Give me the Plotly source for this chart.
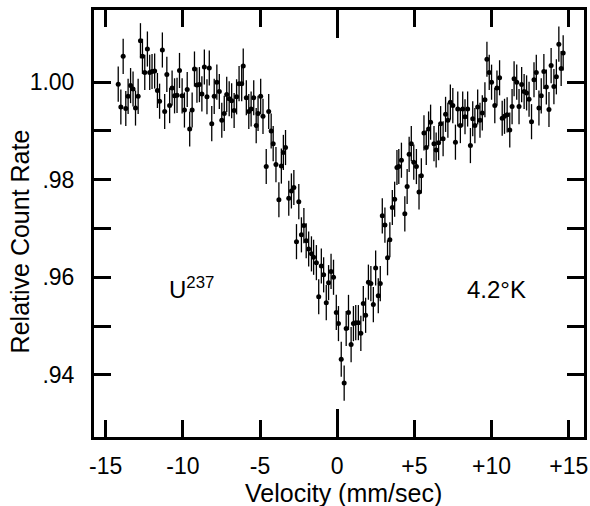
import plotly.graph_objects as go

velocity = [
    -14.19, -14.02, -13.87, -13.70, -13.55, -13.39, -13.23, -13.07, -12.90, -12.75,
    -12.62, -12.47, -12.30, -12.15, -12.00, -11.83, -11.65, -11.51, -11.33, -11.18,
    -11.04, -10.86, -10.70, -10.54, -10.38, -10.22, -10.05, -9.90, -9.72, -9.56,
    -9.40, -9.25, -9.09, -8.93, -8.77, -8.61, -8.44, -8.29, -8.13, -7.97,
    -7.80, -7.64, -7.48, -7.32, -7.16, -7.00, -6.84, -6.68, -6.52, -6.36,
    -6.19, -6.09, -5.89, -5.73, -5.58, -5.41, -5.25, -5.13, -4.96, -4.81,
    -4.60, -4.44, -4.28, -4.15, -3.97, -3.78, -3.62, -3.49, -3.35, -3.14,
    -2.97, -2.81, -2.64, -2.49, -2.32, -2.16, -2.01, -1.85, -1.67, -1.53,
    -1.35, -1.20, -1.03, -0.88, -0.71, -0.56, -0.40, -0.24, -0.06, 0.08,
    0.26, 0.45, 0.58, 0.73, 0.90, 1.05, 1.20, 1.37, 1.53, 1.69,
    1.84, 2.02, 2.18, 2.34, 2.49, 2.66, 2.79, 2.92, 3.09, 3.26,
    3.41, 3.57, 3.72, 3.87, 3.99, 4.16, 4.38, 4.53, 4.66, 4.80,
    4.96, 5.13, 5.30, 5.45, 5.62, 5.77, 5.92, 6.05, 6.27, 6.41,
    6.57, 6.70, 6.86, 7.02, 7.17, 7.33, 7.49, 7.66, 7.81, 7.98,
    8.13, 8.28, 8.45, 8.63, 8.78, 8.92, 9.10, 9.25, 9.40, 9.57,
    9.70, 9.85, 10.00, 10.21, 10.35, 10.52, 10.69, 10.84, 11.01, 11.18,
    11.33, 11.46, 11.63, 11.78, 11.95, 12.11, 12.27, 12.43, 12.59, 12.75,
    12.90, 13.07, 13.22, 13.39, 13.55, 13.72, 13.86, 14.04, 14.20, 14.36,
    14.51, 14.64,
]

count_rate = [
    0.9996, 0.9949, 1.0053, 0.9946, 0.9971, 0.9993, 0.9986, 0.9947, 0.9971, 1.0085,
    1.0053, 1.0020, 1.0068, 1.0020, 1.0022, 1.0023, 0.9983, 0.9961, 1.0066, 0.9940,
    1.0016, 0.9952, 0.9988, 0.9972, 0.9973, 1.0024, 0.9972, 0.9943, 0.9985, 0.9904,
    0.9943, 1.0027, 0.9994, 0.9995, 0.9976, 1.0031, 0.9970, 1.0029, 0.9915, 0.9971,
    1.0000, 0.9981, 0.9922, 0.9936, 0.9975, 0.9966, 0.9962, 0.9942, 0.9970, 0.9997,
    0.9997, 1.0033, 0.9968, 0.9940, 0.9945, 0.9968, 0.9911, 0.9936, 0.9971, 0.9930,
    0.9827, 0.9940, 0.9900, 0.9874, 0.9831, 0.9759, 0.9828, 0.9856, 0.9866, 0.9762,
    0.9777, 0.9784, 0.9673, 0.9755, 0.9687, 0.9706, 0.9675, 0.9658, 0.9648, 0.9641,
    0.9630, 0.9560, 0.9623, 0.9605, 0.9548, 0.9589, 0.9612, 0.9600, 0.9528, 0.9505,
    0.9432, 0.9383, 0.9495, 0.9528, 0.9462, 0.9505, 0.9507, 0.9507, 0.9485, 0.9546,
    0.9522, 0.9590, 0.9587, 0.9544, 0.9619, 0.9562, 0.9587, 0.9726, 0.9707, 0.9640,
    0.9677, 0.9743, 0.9760, 0.9825, 0.9827, 0.9840, 0.9730, 0.9786, 0.9852, 0.9874,
    0.9836, 0.9827, 0.9775, 0.9808, 0.9896, 0.9866, 0.9904, 0.9918, 0.9874, 0.9861,
    0.9876, 0.9915, 0.9884, 0.9934, 0.9922, 0.9959, 0.9952, 0.9877, 0.9945, 0.9911,
    0.9945, 0.9929, 0.9945, 0.9870, 0.9925, 0.9911, 0.9949, 0.9922, 0.9937, 0.9964,
    1.0047, 1.0020, 1.0000, 0.9952, 0.9988, 1.0009, 0.9926, 0.9930, 0.9933, 0.9902,
    0.9950, 1.0007, 1.0000, 0.9950, 0.9995, 0.9981, 0.9978, 0.9965, 0.9919, 1.0005,
    1.0020, 0.9947, 0.9972, 1.0022, 0.9990, 0.9944, 1.0034, 0.9991, 1.0011, 1.0078,
    1.0028, 1.0060,
]

error = [0.0036] * len(count_rate)

x_ticks = [-15, -10, -5, 0, 5, 10, 15]
x_tick_text = ["-15", "-10", "-5", "0", "+5", "+10", "+15"]
y_ticks = [0.94, 0.95, 0.96, 0.97, 0.98, 0.99, 1.00]
y_tick_text = [".94", "", ".96", "", ".98", "", "1.00"]

x_range = [-15.76, 15.99]
y_range = [0.92725, 1.0148]

FONT = "Liberation Sans"

fig = go.Figure()
fig.add_trace(go.Scatter(
    x=velocity, y=count_rate, mode="markers",
    marker=dict(color="black", size=5),
    error_y=dict(type="data", array=error, visible=True, color="black",
                 thickness=1.3, width=0),
    showlegend=False, hoverinfo="skip",
))
# invisible trace on the overlay axis carrying the longer zero tick
fig.add_trace(go.Scatter(x=[0], y=[1.0], xaxis="x2", mode="markers",
                         marker=dict(opacity=0), showlegend=False, hoverinfo="skip"))

fig.update_layout(
    width=590, height=506,
    margin=dict(l=94, r=3, t=10, b=69),
    paper_bgcolor="white", plot_bgcolor="white",
    font=dict(family=FONT, color="black", size=23),
    xaxis=dict(
        range=x_range, tickmode="array", tickvals=x_ticks, ticktext=x_tick_text,
        ticks="inside", ticklen=17, tickwidth=3, tickcolor="black",
        showline=True, linewidth=3, linecolor="black", mirror="ticks",
        showgrid=False, zeroline=False, ticklabelstandoff=6,
        tickfont=dict(size=23, family=FONT),
    ),
    xaxis2=dict(
        range=x_range, overlaying="x", matches="x", side="bottom",
        tickmode="array", tickvals=[0], ticks="inside", ticklen=28, tickwidth=3,
        tickcolor="black", mirror="ticks", showline=False, showticklabels=False,
        showgrid=False, zeroline=False,
    ),
    yaxis=dict(
        range=y_range, tickmode="array", tickvals=y_ticks, ticktext=y_tick_text,
        ticks="inside", ticklen=17, tickwidth=3, tickcolor="black",
        showline=True, linewidth=3, linecolor="black", mirror="ticks",
        showgrid=False, zeroline=False, ticklabelstandoff=12,
        tickfont=dict(size=23, family=FONT),
    ),
    annotations=[
        dict(text="Velocity (mm/sec)", xref="paper", yref="paper",
             x=0.51, y=-0.13, xanchor="center", yanchor="middle",
             showarrow=False, font=dict(size=25, family=FONT)),
        dict(text="Relative Count Rate", xref="paper", yref="paper",
             x=-0.152, y=0.457, xanchor="center", yanchor="middle", textangle=-90,
             showarrow=False, font=dict(size=25, family=FONT)),
        dict(text="U<sup>237</sup>", x=-11.0, y=0.9578, xanchor="left", yanchor="middle",
             showarrow=False, font=dict(size=24, family=FONT)),
        dict(text="4.2°K", x=8.25, y=0.9575, xanchor="left", yanchor="middle",
             showarrow=False, font=dict(size=24, family=FONT)),
    ],
)

fig.write_html(
    "out.html",
    config={"displayModeBar": False},
    post_script="document.body.style.margin='0';document.body.style.padding='0';",
)
